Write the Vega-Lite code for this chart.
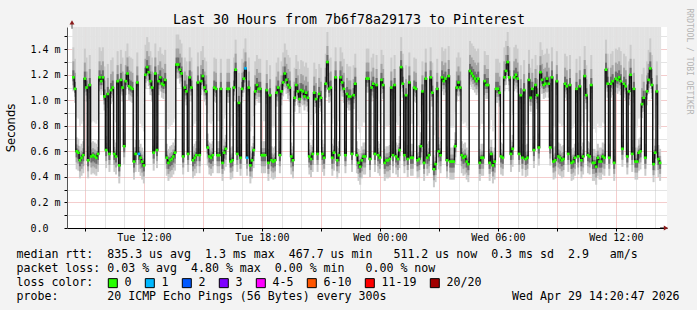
{
"$schema": "https://vega.github.io/schema/vega-lite/v6.json",
"width": 600, "height": 201,
"autosize": {"type": "none"},
"padding": {"left": 67, "top": 27, "right": 30, "bottom": 82},
"background": "#f3f3f3",
"config": {
  "view": {"fill": "#ffffff", "stroke": null},
  "axis": {"labelFont": "DejaVu Sans Mono", "titleFont": "DejaVu Sans Mono", "labelColor": "#000", "titleColor": "#000", "titleFontWeight": "normal", "zindex": 1, "gridDash": [1, 1], "gridWidth": 1, "domain": false, "tickColor": "#000"}
},
"datasets": {"p": [
{"t":"2026-04-28T08:25","m":1.18},{"t":"2026-04-28T08:30","m":1.09},{"t":"2026-04-28T08:35","m":0.60},{"t":"2026-04-28T08:40","m":0.59},{"t":"2026-04-28T08:45","m":0.53},{"t":"2026-04-28T08:50","m":0.55},{"t":"2026-04-28T08:55","m":0.57},
{"t":"2026-04-28T09:00","m":1.17},{"t":"2026-04-28T09:05","m":1.10},{"t":"2026-04-28T09:10","m":0.53},{"t":"2026-04-28T09:15","m":1.12},{"t":"2026-04-28T09:20","m":0.56},{"t":"2026-04-28T09:25","m":0.57},{"t":"2026-04-28T09:30","m":0.56},{"t":"2026-04-28T09:35","m":0.55},{"t":"2026-04-28T09:40","m":0.58},{"t":"2026-04-28T09:45","m":1.18},{"t":"2026-04-28T09:50","m":1.15},{"t":"2026-04-28T09:55","m":1.18},
{"t":"2026-04-28T10:00","m":1.03},{"t":"2026-04-28T10:05","m":0.61},{"t":"2026-04-28T10:10","m":1.05},{"t":"2026-04-28T10:15","m":0.58},{"t":"2026-04-28T10:20","m":1.08},{"t":"2026-04-28T10:25","m":1.10},{"t":"2026-04-28T10:30","m":0.58},{"t":"2026-04-28T10:35","m":0.56},{"t":"2026-04-28T10:40","m":1.15},{"t":"2026-04-28T10:45","m":0.49},{"t":"2026-04-28T10:50","m":1.16},{"t":"2026-04-28T10:55","m":1.10},
{"t":"2026-04-28T11:00","m":0.64},{"t":"2026-04-28T11:05","m":1.15},{"t":"2026-04-28T11:10","m":1.21},{"t":"2026-04-28T11:15","m":1.11},{"t":"2026-04-28T11:20","m":1.10},{"t":"2026-04-28T11:25","m":1.09},{"t":"2026-04-28T11:30","m":0.52},{"t":"2026-04-28T11:35","m":0.58},{"t":"2026-04-28T11:40","m":1.14},{"t":"2026-04-28T11:45","m":0.58,"l":"1"},{"t":"2026-04-28T11:50","m":0.55},{"t":"2026-04-28T11:55","m":0.52},
{"t":"2026-04-28T12:00","m":0.49},{"t":"2026-04-28T12:05","m":1.20},{"t":"2026-04-28T12:10","m":1.26},{"t":"2026-04-28T12:15","m":1.22},{"t":"2026-04-28T12:20","m":1.15},{"t":"2026-04-28T12:25","m":1.10},{"t":"2026-04-28T12:30","m":0.59},{"t":"2026-04-28T12:35","m":1.21},{"t":"2026-04-28T12:40","m":0.61},{"t":"2026-04-28T12:45","m":1.15},{"t":"2026-04-28T12:50","m":1.18},{"t":"2026-04-28T12:55","m":1.13},
{"t":"2026-04-28T13:00","m":1.12},{"t":"2026-04-28T13:05","m":1.16},{"t":"2026-04-28T13:10","m":0.55},{"t":"2026-04-28T13:15","m":0.51},{"t":"2026-04-28T13:20","m":0.53},{"t":"2026-04-28T13:25","m":0.54},{"t":"2026-04-28T13:30","m":0.56},{"t":"2026-04-28T13:35","m":0.59},{"t":"2026-04-28T13:40","m":1.28},{"t":"2026-04-28T13:45","m":1.28},{"t":"2026-04-28T13:50","m":1.24},{"t":"2026-04-28T13:55","m":1.21},
{"t":"2026-04-28T14:00","m":0.56},{"t":"2026-04-28T14:05","m":1.10},{"t":"2026-04-28T14:10","m":1.07},{"t":"2026-04-28T14:15","m":0.58},{"t":"2026-04-28T14:20","m":1.18},{"t":"2026-04-28T14:25","m":1.10},{"t":"2026-04-28T14:30","m":0.53},{"t":"2026-04-28T14:35","m":0.55},{"t":"2026-04-28T14:40","m":0.57},{"t":"2026-04-28T14:45","m":1.14},{"t":"2026-04-28T14:50","m":0.57},{"t":"2026-04-28T14:55","m":1.15},
{"t":"2026-04-28T15:00","m":1.19},{"t":"2026-04-28T15:05","m":1.10},{"t":"2026-04-28T15:10","m":1.07},{"t":"2026-04-28T15:15","m":0.63},{"t":"2026-04-28T15:20","m":0.56},{"t":"2026-04-28T15:25","m":0.55},{"t":"2026-04-28T15:30","m":0.57},{"t":"2026-04-28T15:35","m":1.10},{"t":"2026-04-28T15:40","m":1.09},{"t":"2026-04-28T15:45","m":0.57},{"t":"2026-04-28T15:50","m":0.57},{"t":"2026-04-28T15:55","m":1.09},
{"t":"2026-04-28T16:00","m":0.51},{"t":"2026-04-28T16:05","m":0.59},{"t":"2026-04-28T16:10","m":0.62},{"t":"2026-04-28T16:15","m":1.09},{"t":"2026-04-28T16:20","m":1.09},{"t":"2026-04-28T16:25","m":0.52},{"t":"2026-04-28T16:30","m":0.53},{"t":"2026-04-28T16:35","m":1.10},{"t":"2026-04-28T16:40","m":1.24},{"t":"2026-04-28T16:45","m":0.58},{"t":"2026-04-28T16:50","m":0.98},{"t":"2026-04-28T16:55","m":0.55},
{"t":"2026-04-28T17:00","m":1.09},{"t":"2026-04-28T17:05","m":1.17},{"t":"2026-04-28T17:10","m":1.25,"l":"1"},{"t":"2026-04-28T17:15","m":0.55,"l":"1"},{"t":"2026-04-28T17:20","m":1.10},{"t":"2026-04-28T17:25","m":0.49},{"t":"2026-04-28T17:30","m":0.53},{"t":"2026-04-28T17:35","m":0.61},{"t":"2026-04-28T17:40","m":1.07},{"t":"2026-04-28T17:45","m":1.12},{"t":"2026-04-28T17:50","m":1.09},{"t":"2026-04-28T17:55","m":1.09},
{"t":"2026-04-28T18:00","m":0.57},{"t":"2026-04-28T18:05","m":0.57},{"t":"2026-04-28T18:10","m":0.57},{"t":"2026-04-28T18:15","m":1.08},{"t":"2026-04-28T18:20","m":0.51},{"t":"2026-04-28T18:25","m":1.04},{"t":"2026-04-28T18:30","m":0.53},{"t":"2026-04-28T18:35","m":0.52},{"t":"2026-04-28T18:40","m":0.53},{"t":"2026-04-28T18:45","m":1.06},{"t":"2026-04-28T18:50","m":1.10},{"t":"2026-04-28T18:55","m":0.57},
{"t":"2026-04-28T19:00","m":1.07},{"t":"2026-04-28T19:05","m":1.14},{"t":"2026-04-28T19:10","m":1.21},{"t":"2026-04-28T19:15","m":1.16},{"t":"2026-04-28T19:20","m":1.12},{"t":"2026-04-28T19:25","m":1.10},{"t":"2026-04-28T19:30","m":0.56},{"t":"2026-04-28T19:35","m":0.53},{"t":"2026-04-28T19:40","m":1.02},{"t":"2026-04-28T19:45","m":1.12},{"t":"2026-04-28T19:50","m":1.07},{"t":"2026-04-28T19:55","m":1.01},
{"t":"2026-04-28T20:00","m":1.08},{"t":"2026-04-28T20:05","m":1.07},{"t":"2026-04-28T20:10","m":1.03},{"t":"2026-04-28T20:15","m":1.06},{"t":"2026-04-28T20:20","m":1.02},{"t":"2026-04-28T20:25","m":0.56},{"t":"2026-04-28T20:30","m":0.54},{"t":"2026-04-28T20:35","m":0.58},{"t":"2026-04-28T20:40","m":1.06},{"t":"2026-04-28T20:45","m":1.01},{"t":"2026-04-28T20:50","m":0.58},{"t":"2026-04-28T20:55","m":1.05},
{"t":"2026-04-28T21:00","m":1.02},{"t":"2026-04-28T21:05","m":0.58},{"t":"2026-04-28T21:10","m":0.55},{"t":"2026-04-28T21:15","m":1.13},{"t":"2026-04-28T21:20","m":1.30},{"t":"2026-04-28T21:25","m":1.09},{"t":"2026-04-28T21:30","m":1.10},{"t":"2026-04-28T21:35","m":0.55},{"t":"2026-04-28T21:40","m":0.59},{"t":"2026-04-28T21:45","m":1.18},{"t":"2026-04-28T21:50","m":0.53},{"t":"2026-04-28T21:55","m":0.57},
{"t":"2026-04-28T22:00","m":1.18},{"t":"2026-04-28T22:05","m":1.14},{"t":"2026-04-28T22:10","m":1.09},{"t":"2026-04-28T22:15","m":0.57},{"t":"2026-04-28T22:20","m":1.05},{"t":"2026-04-28T22:25","m":1.03},{"t":"2026-04-28T22:30","m":1.03},{"t":"2026-04-28T22:35","m":0.58},{"t":"2026-04-28T22:40","m":1.04},{"t":"2026-04-28T22:45","m":1.13},{"t":"2026-04-28T22:50","m":0.57},{"t":"2026-04-28T22:55","m":0.51},
{"t":"2026-04-28T23:00","m":0.48},{"t":"2026-04-28T23:05","m":0.53},{"t":"2026-04-28T23:10","m":0.56},{"t":"2026-04-28T23:15","m":0.56},{"t":"2026-04-28T23:20","m":1.17},{"t":"2026-04-28T23:25","m":1.17},{"t":"2026-04-28T23:30","m":0.54},{"t":"2026-04-28T23:35","m":1.10},{"t":"2026-04-28T23:40","m":1.13},{"t":"2026-04-28T23:45","m":0.58},{"t":"2026-04-28T23:50","m":1.12},{"t":"2026-04-28T23:55","m":0.57},
{"t":"2026-04-29T00:00","m":0.55},{"t":"2026-04-29T00:05","m":1.16},{"t":"2026-04-29T00:10","m":1.12},{"t":"2026-04-29T00:15","m":0.51},{"t":"2026-04-29T00:20","m":0.53},{"t":"2026-04-29T00:25","m":0.53},{"t":"2026-04-29T00:30","m":0.54},{"t":"2026-04-29T00:35","m":1.10},{"t":"2026-04-29T00:40","m":0.57},{"t":"2026-04-29T00:45","m":1.12},{"t":"2026-04-29T00:50","m":0.56},{"t":"2026-04-29T00:55","m":0.54},
{"t":"2026-04-29T01:00","m":0.61},{"t":"2026-04-29T01:05","m":1.26},{"t":"2026-04-29T01:10","m":1.13},{"t":"2026-04-29T01:15","m":0.57},{"t":"2026-04-29T01:20","m":1.04},{"t":"2026-04-29T01:25","m":0.54},{"t":"2026-04-29T01:30","m":1.14},{"t":"2026-04-29T01:35","m":0.55},{"t":"2026-04-29T01:40","m":0.55},{"t":"2026-04-29T01:45","m":1.10},{"t":"2026-04-29T01:50","m":1.09},{"t":"2026-04-29T01:55","m":0.53},
{"t":"2026-04-29T02:00","m":0.54},{"t":"2026-04-29T02:05","m":0.64},{"t":"2026-04-29T02:10","m":1.07},{"t":"2026-04-29T02:15","m":0.51},{"t":"2026-04-29T02:20","m":1.17},{"t":"2026-04-29T02:25","m":0.55},{"t":"2026-04-29T02:30","m":0.57},{"t":"2026-04-29T02:35","m":1.18},{"t":"2026-04-29T02:40","m":1.06},{"t":"2026-04-29T02:45","m":0.46},{"t":"2026-04-29T02:50","m":0.50},{"t":"2026-04-29T02:55","m":1.09},
{"t":"2026-04-29T03:00","m":0.60},{"t":"2026-04-29T03:05","m":0.57},{"t":"2026-04-29T03:10","m":1.18},{"t":"2026-04-29T03:15","m":1.15},{"t":"2026-04-29T03:20","m":1.17},{"t":"2026-04-29T03:25","m":0.53},{"t":"2026-04-29T03:30","m":1.19},{"t":"2026-04-29T03:35","m":0.52},{"t":"2026-04-29T03:40","m":0.52},{"t":"2026-04-29T03:45","m":0.52},{"t":"2026-04-29T03:50","m":0.64},{"t":"2026-04-29T03:55","m":1.10},
{"t":"2026-04-29T04:00","m":1.14},{"t":"2026-04-29T04:05","m":1.10},{"t":"2026-04-29T04:10","m":0.57},{"t":"2026-04-29T04:15","m":0.55},{"t":"2026-04-29T04:20","m":0.56},{"t":"2026-04-29T04:25","m":0.52},{"t":"2026-04-29T04:30","m":0.50},{"t":"2026-04-29T04:35","m":1.23},{"t":"2026-04-29T04:40","m":1.21},{"t":"2026-04-29T04:45","m":1.19},{"t":"2026-04-29T04:50","m":1.17},{"t":"2026-04-29T04:55","m":1.15},
{"t":"2026-04-29T05:00","m":1.17},{"t":"2026-04-29T05:05","m":0.51},{"t":"2026-04-29T05:10","m":0.55},{"t":"2026-04-29T05:15","m":0.55},{"t":"2026-04-29T05:20","m":1.15},{"t":"2026-04-29T05:25","m":1.12},{"t":"2026-04-29T05:30","m":1.12},{"t":"2026-04-29T05:35","m":0.51},{"t":"2026-04-29T05:40","m":0.58},{"t":"2026-04-29T05:45","m":0.49},{"t":"2026-04-29T05:50","m":0.52},{"t":"2026-04-29T05:55","m":1.09},
{"t":"2026-04-29T06:00","m":1.09},{"t":"2026-04-29T06:05","m":1.06},{"t":"2026-04-29T06:10","m":0.56},{"t":"2026-04-29T06:15","m":0.55},{"t":"2026-04-29T06:20","m":1.18},{"t":"2026-04-29T06:25","m":1.23},{"t":"2026-04-29T06:30","m":1.30},{"t":"2026-04-29T06:35","m":1.18},{"t":"2026-04-29T06:40","m":0.58},{"t":"2026-04-29T06:45","m":0.62},{"t":"2026-04-29T06:50","m":1.18},{"t":"2026-04-29T06:55","m":1.20},
{"t":"2026-04-29T07:00","m":1.17},{"t":"2026-04-29T07:05","m":0.58},{"t":"2026-04-29T07:10","m":1.04},{"t":"2026-04-29T07:15","m":0.55},{"t":"2026-04-29T07:20","m":1.08},{"t":"2026-04-29T07:25","m":0.54},{"t":"2026-04-29T07:30","m":0.55},{"t":"2026-04-29T07:35","m":1.16},{"t":"2026-04-29T07:40","m":1.02},{"t":"2026-04-29T07:45","m":1.09},{"t":"2026-04-29T07:50","m":0.61},{"t":"2026-04-29T07:55","m":1.12},
{"t":"2026-04-29T08:00","m":1.04},{"t":"2026-04-29T08:05","m":0.63},{"t":"2026-04-29T08:10","m":1.22},{"t":"2026-04-29T08:15","m":1.16},{"t":"2026-04-29T08:20","m":1.12},{"t":"2026-04-29T08:25","m":1.13},{"t":"2026-04-29T08:30","m":1.17},{"t":"2026-04-29T08:35","m":1.13},{"t":"2026-04-29T08:40","m":0.63},{"t":"2026-04-29T08:45","m":1.18},{"t":"2026-04-29T08:50","m":0.52},{"t":"2026-04-29T08:55","m":0.53},
{"t":"2026-04-29T09:00","m":1.15},{"t":"2026-04-29T09:05","m":0.56},{"t":"2026-04-29T09:10","m":0.55},{"t":"2026-04-29T09:15","m":0.53},{"t":"2026-04-29T09:20","m":0.54},{"t":"2026-04-29T09:25","m":1.13},{"t":"2026-04-29T09:30","m":1.11},{"t":"2026-04-29T09:35","m":0.58},{"t":"2026-04-29T09:40","m":1.12},{"t":"2026-04-29T09:45","m":0.51},{"t":"2026-04-29T09:50","m":0.52},{"t":"2026-04-29T09:55","m":0.55},
{"t":"2026-04-29T10:00","m":1.09},{"t":"2026-04-29T10:05","m":0.56},{"t":"2026-04-29T10:10","m":1.11},{"t":"2026-04-29T10:15","m":0.53},{"t":"2026-04-29T10:20","m":0.56},{"t":"2026-04-29T10:25","m":1.19},{"t":"2026-04-29T10:30","m":1.04},{"t":"2026-04-29T10:35","m":0.57},{"t":"2026-04-29T10:40","m":0.56},{"t":"2026-04-29T10:45","m":1.12},{"t":"2026-04-29T10:50","m":0.51},{"t":"2026-04-29T10:55","m":0.51},
{"t":"2026-04-29T11:00","m":0.48},{"t":"2026-04-29T11:05","m":0.55},{"t":"2026-04-29T11:10","m":0.52},{"t":"2026-04-29T11:15","m":0.52},{"t":"2026-04-29T11:20","m":0.56},{"t":"2026-04-29T11:25","m":0.55},{"t":"2026-04-29T11:30","m":1.24},{"t":"2026-04-29T11:35","m":1.13},{"t":"2026-04-29T11:40","m":0.55},{"t":"2026-04-29T11:45","m":1.13},{"t":"2026-04-29T11:50","m":1.15},{"t":"2026-04-29T11:55","m":0.51},
{"t":"2026-04-29T12:00","m":1.17},{"t":"2026-04-29T12:05","m":1.16},{"t":"2026-04-29T12:10","m":1.18},{"t":"2026-04-29T12:15","m":1.15},{"t":"2026-04-29T12:20","m":0.62},{"t":"2026-04-29T12:25","m":1.13},{"t":"2026-04-29T12:30","m":1.11},{"t":"2026-04-29T12:35","m":0.56},{"t":"2026-04-29T12:40","m":1.07},{"t":"2026-04-29T12:45","m":1.20},{"t":"2026-04-29T12:50","m":0.58},{"t":"2026-04-29T12:55","m":1.09},
{"t":"2026-04-29T13:00","m":0.52},{"t":"2026-04-29T13:05","m":0.52},{"t":"2026-04-29T13:10","m":0.59},{"t":"2026-04-29T13:15","m":0.60},{"t":"2026-04-29T13:20","m":0.97},{"t":"2026-04-29T13:25","m":1.02},{"t":"2026-04-29T13:30","m":0.55},{"t":"2026-04-29T13:35","m":1.07},{"t":"2026-04-29T13:40","m":1.16},{"t":"2026-04-29T13:45","m":1.25},{"t":"2026-04-29T13:50","m":1.12},{"t":"2026-04-29T13:55","m":0.50},
{"t":"2026-04-29T14:00","m":0.59},{"t":"2026-04-29T14:05","m":1.07},{"t":"2026-04-29T14:10","m":0.54},{"t":"2026-04-29T14:15","m":0.51}
]},
"data": {"name": "p"},
"resolve": {"axis": {"x": "independent", "y": "independent"}},
"layer": [
{
  "transform": [{"filter": "datum.m > 0.8"}],
  "mark": {"type": "bar", "width": 2, "color": "#e2e2e2", "clip": true},
  "encoding": {
    "x": {"field": "t", "type": "temporal",
      "scale": {"domain": [{"year":2026,"month":4,"date":28,"hours":8,"minutes":20,"seconds":47},{"year":2026,"month":4,"date":29,"hours":14,"minutes":20,"seconds":47}], "nice": false},
      "axis": {
        "tickCount": 30,
        "labelExpr": "hours(datum.value) % 6 == 0 ? timeFormat(datum.value, '%a %H:%M') : ''",
        "labelFontSize": 10, "labelPadding": 1, "tickSize": 3, "labelFlush": false, "labelOverlap": false, "labelBound": false,
        "domain": true, "domainColor": "#000000", "domainWidth": 1,
        "grid": true,
        "gridColor": {"condition": {"test": "hours(datum.value) % 3 == 0", "value": "#e89a9a"}, "value": "#c8c8c8"},
        "tickColor": {"condition": {"test": "hours(datum.value) % 3 == 0", "value": "#000000"}, "value": "transparent"},
        "title": ["median rtt:\u00a0\u00a0835.3 us avg\u00a0\u00a01.3 ms max\u00a0\u00a0467.7 us min\u00a0\u00a0\u00a0511.2 us now\u00a0\u00a00.3 ms sd\u00a0\u00a02.9\u00a0\u00a0\u00a0am/s", "packet loss: 0.03 % avg\u00a0\u00a04.80 % max\u00a0\u00a00.00 % min\u00a0\u00a0\u00a00.00 % now", "loss color:", "probe:\u00a0\u00a0\u00a0\u00a0\u00a0\u00a0\u00a020 ICMP Echo Pings (56 Bytes) every 300s\u00a0\u00a0\u00a0\u00a0\u00a0\u00a0\u00a0\u00a0\u00a0\u00a0\u00a0\u00a0\u00a0\u00a0\u00a0\u00a0\u00a0\u00a0Wed Apr 29 14:20:47 2026"],
        "titleAnchor": "start", "titleAlign": "left", "titleX": -51, "titleY": 29.5, "titleBaseline": "alphabetic", "titleFontSize": 11.6, "titleLineHeight": 14
      }},
    "y": {"field": "m", "type": "quantitative",
      "scale": {"domain": [0, 1.574], "nice": false, "zero": true},
      "axis": {
        "values": [0, 0.1, 0.2, 0.3, 0.4, 0.5, 0.6, 0.7, 0.8, 0.9, 1.0, 1.1, 1.2, 1.3, 1.4, 1.5],
        "labelExpr": "round(datum.value * 10) % 2 == 0 ? (datum.value == 0 ? '0.0' : format(datum.value, '.1f') + ' m') : ''",
        "labelFontSize": 10, "labelAlign": "left", "labelBaseline": "middle", "labelPadding": 34, "tickSize": 3, "labelFlush": false, "labelOverlap": false, "labelBound": false,
        "domain": true, "domainColor": "#555555", "domainWidth": 1,
        "grid": true,
        "gridColor": {"condition": {"test": "round(datum.value * 10) % 2 == 0", "value": "#e89a9a"}, "value": "#c8c8c8"},
        "title": "Seconds", "titleFont": "DejaVu Sans", "titleFontSize": 11.6, "titleAngle": 270, "titleX": -56, "titleY": 100.5, "titleAlign": "center", "titleBaseline": "middle"
      }},
    "y2": {"datum": 1.6}
  }
},
{
  "transform": [{"filter": "datum.m <= 0.8"}],
  "mark": {"type": "bar", "width": 2, "color": "#e2e2e2", "yOffset": -34, "clip": true},
  "encoding": {"x": {"field": "t", "type": "temporal", "axis": null}, "y": {"field": "m", "type": "quantitative", "axis": null}, "y2": {"datum": 1.6}}
},
{
  "transform": [{"filter": "datum.m > 0.8"}],
  "mark": {"type": "bar", "width": 2, "color": "#cbcbcb", "yOffset": -30, "y2Offset": 14, "clip": true},
  "encoding": {"x": {"field": "t", "type": "temporal", "axis": null}, "y": {"field": "m", "type": "quantitative", "axis": null}, "y2": {"field": "m"}}
},
{
  "transform": [{"filter": "datum.m <= 0.8"}],
  "mark": {"type": "bar", "width": 2, "color": "#cbcbcb", "yOffset": -14, "y2Offset": 18, "clip": true},
  "encoding": {"x": {"field": "t", "type": "temporal", "axis": null}, "y": {"field": "m", "type": "quantitative", "axis": null}, "y2": {"field": "m"}}
},
{
  "transform": [{"filter": "datum.m > 0.8"}],
  "mark": {"type": "bar", "width": 2, "color": "#a4a4a4", "yOffset": -16, "y2Offset": 8, "clip": true},
  "encoding": {"x": {"field": "t", "type": "temporal", "axis": null}, "y": {"field": "m", "type": "quantitative", "axis": null}, "y2": {"field": "m"}}
},
{
  "transform": [{"filter": "datum.m <= 0.8"}],
  "mark": {"type": "bar", "width": 2, "color": "#a4a4a4", "yOffset": -7, "y2Offset": 11, "clip": true},
  "encoding": {"x": {"field": "t", "type": "temporal", "axis": null}, "y": {"field": "m", "type": "quantitative", "axis": null}, "y2": {"field": "m"}}
},
{
  "transform": [{"filter": "datum.m > 0.8"}],
  "mark": {"type": "bar", "width": 2, "color": "#6c6c6c", "yOffset": -7, "y2Offset": 4, "clip": true},
  "encoding": {"x": {"field": "t", "type": "temporal", "axis": null}, "y": {"field": "m", "type": "quantitative", "axis": null}, "y2": {"field": "m"}}
},
{
  "transform": [{"filter": "datum.m <= 0.8"}],
  "mark": {"type": "bar", "width": 2, "color": "#6c6c6c", "yOffset": -3, "y2Offset": 6, "clip": true},
  "encoding": {"x": {"field": "t", "type": "temporal", "axis": null}, "y": {"field": "m", "type": "quantitative", "axis": null}, "y2": {"field": "m"}}
},
{
  "mark": {"type": "line", "interpolate": "step", "color": "#111111", "strokeWidth": 1.4, "clip": true},
  "encoding": {"x": {"field": "t", "type": "temporal", "axis": null}, "y": {"field": "m", "type": "quantitative", "axis": null}}
},
{
  "transform": [{"filter": "!datum.l"}],
  "mark": {"type": "point", "shape": "square", "filled": true, "size": 7, "color": "#26ff00", "opacity": 1},
  "encoding": {
    "x": {"field": "t", "type": "temporal",
      "axis": {"orient": "top", "grid": false, "labels": false, "ticks": false, "domain": false,
        "title": "Last 30 Hours from 7b6f78a29173 to Pinterest", "titleFontSize": 13.3, "titleX": 281.5, "titleY": -4, "titleAlign": "center", "titleBaseline": "alphabetic"}},
    "y": {"field": "m", "type": "quantitative",
      "axis": {"orient": "right", "grid": false, "labels": false, "ticks": false, "domain": false,
        "title": "RRDTOOL / TOBI OETIKER", "titleFontSize": 8, "titleColor": "#b4b4b4", "titleAngle": 90, "titleX": 21, "titleY": -19, "titleAlign": "left", "titleBaseline": "middle"}}
  }
},
{
  "transform": [{"filter": "datum.l"}],
  "mark": {"type": "point", "shape": "square", "filled": true, "size": 7, "opacity": 1},
  "encoding": {
    "x": {"field": "t", "type": "temporal", "axis": null},
    "y": {"field": "m", "type": "quantitative", "axis": null},
    "color": {"field": "l", "type": "nominal",
      "scale": {"domain": ["0", "1", "2", "3", "4-5", "6-10", "11-19", "20/20"], "range": ["#26ff00", "#00b8ff", "#0059ff", "#7e00ff", "#ff00ff", "#ff5500", "#ff0000", "#a10000"]},
      "legend": {"title": null, "orient": "none", "legendX": 40, "legendY": 250, "direction": "horizontal",
        "labelFont": "DejaVu Sans Mono", "labelFontSize": 11.6, "labelColor": "#000", "labelOffset": 6, "columnPadding": 11,
        "symbolType": "square", "symbolSize": 81, "symbolStrokeColor": "#000", "symbolStrokeWidth": 1, "symbolOpacity": 1, "padding": 0}}
  }
},
{
  "data": {"values": [{}]},
  "mark": {"type": "rule", "color": "#555555", "strokeWidth": 1},
  "encoding": {
    "x": {"datum": {"year":2026,"month":4,"date":28,"hours":8,"minutes":20,"seconds":47}, "type": "temporal", "axis": null},
    "y": {"datum": 1.56, "type": "quantitative", "axis": null},
    "y2": {"datum": 1.6}
  }
},
{
  "data": {"values": [{}]},
  "mark": {"type": "rule", "color": "#000000", "strokeWidth": 1},
  "encoding": {
    "x": {"datum": {"year":2026,"month":4,"date":29,"hours":14,"minutes":15,"seconds":0}, "type": "temporal", "axis": null},
    "x2": {"datum": {"year":2026,"month":4,"date":29,"hours":14,"minutes":29,"seconds":0}},
    "y": {"datum": 0, "type": "quantitative", "axis": null}
  }
},
{
  "data": {"values": [{}]},
  "mark": {"type": "point", "shape": "triangle-up", "filled": true, "size": 24, "color": "#8b1a1a", "opacity": 1},
  "encoding": {
    "x": {"datum": {"year":2026,"month":4,"date":28,"hours":8,"minutes":20,"seconds":47}, "type": "temporal", "axis": null},
    "y": {"datum": 1.61, "type": "quantitative", "axis": null}
  }
},
{
  "data": {"values": [{}]},
  "mark": {"type": "point", "shape": "triangle-right", "filled": true, "size": 24, "color": "#8b1a1a", "opacity": 1},
  "encoding": {
    "x": {"datum": {"year":2026,"month":4,"date":29,"hours":14,"minutes":32,"seconds":47}, "type": "temporal", "axis": null},
    "y": {"datum": 0, "type": "quantitative", "axis": null}
  }
}
]
}
